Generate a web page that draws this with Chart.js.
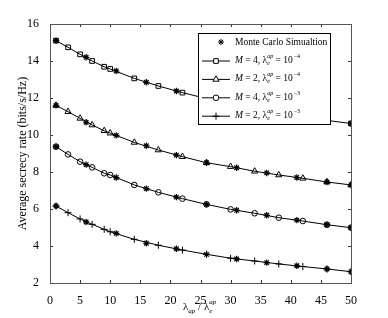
<!DOCTYPE html>
<html>
<head>
<meta charset="utf-8">
<script src="https://cdn.jsdelivr.net/npm/chart.js@4"></script>
<style>
  html, body { margin: 0; padding: 0; background: #fff; }
  #box { width: 388px; height: 318px; }
</style>
</head>
<body>
<div id="box"><canvas id="grafico" width="388" height="318"></canvas></div>
<script>
// eixo x onde estão os marcadores das curvas analíticas
const xMarcadores = [1, 3, 5, 7, 9, 10, 14, 18, 22, 26, 30, 34, 38, 42, 46, 50];
// curvas analíticas
const m4e4 = [15.1, 14.74, 14.36, 14.0, 13.69, 13.57, 13.06, 12.65, 12.29, 11.97, 11.69, 11.45, 11.21, 11.0, 10.79, 10.62];
const m2e4 = [11.6, 11.26, 10.9, 10.54, 10.23, 10.1, 9.6, 9.19, 8.83, 8.5, 8.29, 8.04, 7.84, 7.66, 7.46, 7.3];
const m4e3 = [9.37, 8.95, 8.56, 8.25, 7.93, 7.84, 7.3, 6.9, 6.56, 6.25, 5.98, 5.77, 5.53, 5.35, 5.15, 4.99];
const m2e3 = [6.16, 5.8, 5.46, 5.17, 4.9, 4.77, 4.36, 4.04, 3.78, 3.55, 3.34, 3.19, 3.03, 2.89, 2.76, 2.61];

// pontos da simulação Monte Carlo
const xSimulacao = [1, 6, 11, 16, 21, 26, 31, 36, 41, 46, 50];
const simM4e4 = [15.1, 14.2, 13.46, 12.85, 12.38, 11.97, 11.64, 11.34, 11.06, 10.8, 10.62];
const simM2e4 = [11.6, 10.69, 9.98, 9.42, 8.91, 8.5, 8.23, 7.95, 7.7, 7.46, 7.3];
const simM4e3 = [9.37, 8.4, 7.7, 7.1, 6.64, 6.25, 5.93, 5.66, 5.4, 5.15, 4.99];
const simM2e3 = [6.16, 5.3, 4.68, 4.15, 3.85, 3.55, 3.3, 3.1, 2.93, 2.76, 2.61];

const xTicks = [0, 5, 10, 15, 20, 25, 30, 35, 40, 45, 50];
const yTicks = [2, 4, 6, 8, 10, 12, 14, 16];

// textos da legenda
const legendaM = ['4', '2', '4', '2'];
const legendaExp = ['\u22124', '\u22124', '\u22123', '\u22123'];
const legendaSim = 'Monte Carlo Simualtion';

const SERIF = '"Liberation Serif", "Times New Roman", serif';

function pares(xs, ys) {
    return xs.map((x, i) => ({ x: x, y: ys[i] }));
}

function curva(ys, estilo, raio) {
    return {
        data: pares(xMarcadores, ys),
        borderColor: '#000',
        borderWidth: 1,
        pointStyle: estilo,
        pointRadius: raio,
        pointBorderColor: '#000',
        pointBorderWidth: 1,
        pointBackgroundColor: 'rgba(0,0,0,0)',
        tension: 0
    };
}

function simulacao(ys) {
    return {
        data: pares(xSimulacao, ys),
        showLine: false,
        pointStyle: 'star',
        pointRadius: 3.2,
        pointBorderColor: '#000',
        pointBorderWidth: 1.2
    };
}

// desenha os ticks para dentro, a caixa, título do eixo x e a legenda
const extras = {
    id: 'extras',
    afterDraw(chart) {
        const ctx = chart.ctx;
        const a = chart.chartArea;
        const sx = chart.scales.x, sy = chart.scales.y;
        ctx.save();
        ctx.strokeStyle = '#333';
        ctx.lineWidth = 1;
        ctx.beginPath();
        sx.ticks.forEach(t => {
            const px = Math.round(sx.getPixelForValue(t.value)) + 0.5;
            ctx.moveTo(px, a.bottom); ctx.lineTo(px, a.bottom - 3);
            ctx.moveTo(px, a.top); ctx.lineTo(px, a.top + 3);
        });
        sy.ticks.forEach(t => {
            const py = Math.round(sy.getPixelForValue(t.value)) + 0.5;
            ctx.moveTo(a.left, py); ctx.lineTo(a.left + 3, py);
            ctx.moveTo(a.right, py); ctx.lineTo(a.right - 3, py);
        });
        ctx.stroke();
        ctx.strokeStyle = '#555';
        ctx.strokeRect(Math.round(a.left) + 0.5, Math.round(a.top) + 0.5,
            Math.round(a.right - a.left), Math.round(a.bottom - a.top));

        // título do eixo x: λap / λe^ap
        ctx.fillStyle = '#000';
        ctx.textBaseline = 'alphabetic';
        let x = 183, y = 310;
        ctx.font = '11px ' + SERIF;
        ctx.fillText('\u03bb', x, y); x += ctx.measureText('\u03bb').width;
        ctx.font = 'italic 7px ' + SERIF;
        ctx.fillText('ap', x, y + 3); x += ctx.measureText('ap').width;
        ctx.font = '11px ' + SERIF;
        ctx.fillText(' / \u03bb', x, y); x += ctx.measureText(' / \u03bb').width;
        ctx.font = 'italic 7px ' + SERIF;
        ctx.fillText('e', x, y + 3);
        ctx.fillText('ap', x, y - 6);

        // legenda
        const lx = 198, ly = 33, lw = 132, lh = 91;
        ctx.fillStyle = '#fff';
        ctx.fillRect(lx, ly, lw, lh);
        ctx.strokeStyle = '#000';
        ctx.strokeRect(lx + 0.5, ly + 0.5, lw, lh);
        const linhas = chart.data.datasets;
        const passo = 18.4;
        let ry = 42;
        Chart.helpers.drawPoint(ctx, {
            pointStyle: 'star', radius: 3, borderWidth: 1
        }, 221, ry);
        ctx.fillStyle = '#000';
        ctx.font = '9.5px ' + SERIF;
        ctx.textBaseline = 'middle';
        ctx.fillText(legendaSim, 235, ry);
        for (let i = 0; i < 4; i++) {
            ry = 60.5 + i * passo;
            const ds = linhas[i];
            ctx.strokeStyle = '#000';
            ctx.beginPath();
            ctx.moveTo(202, ry + 0.5); ctx.lineTo(230, ry + 0.5);
            ctx.stroke();
            ctx.fillStyle = '#fff';
            Chart.helpers.drawPoint(ctx, {
                pointStyle: ds.pointStyle, radius: ds.pointRadius,
                rotation: 0, borderWidth: 1
            }, 216, ry + 0.5);
            ctx.fillStyle = '#000';
            let tx = 235;
            ctx.font = 'italic 9.5px ' + SERIF;
            ctx.fillText('M', tx, ry); tx += ctx.measureText('M').width;
            ctx.font = '9.5px ' + SERIF;
            let s = ' = ' + legendaM[i] + ', \u03bb';
            ctx.fillText(s, tx, ry); tx += ctx.measureText(s).width;
            ctx.font = 'italic 6px ' + SERIF;
            ctx.fillText('e', tx, ry + 3);
            ctx.fillText('ap', tx, ry - 4);
            tx += ctx.measureText('ap').width;
            ctx.font = '9.5px ' + SERIF;
            s = ' = 10';
            ctx.fillText(s, tx, ry); tx += ctx.measureText(s).width;
            ctx.font = '6px ' + SERIF;
            ctx.fillText(legendaExp[i], tx + 1, ry - 4);
        }
        ctx.restore();
    }
};

const ctx = document.getElementById('grafico').getContext('2d');
window.chartInstance = new Chart(ctx, {
    type: 'line',
    data: {
        datasets: [
            curva(m4e4, 'rect', 3.3),
            curva(m2e4, 'triangle', 3.6),
            curva(m4e3, 'circle', 2.8),
            curva(m2e3, 'cross', 3.5),
            simulacao(simM4e4),
            simulacao(simM2e4),
            simulacao(simM4e3),
            simulacao(simM2e3)
        ]
    },
    options: {
        responsive: false,
        animation: false,
        layout: { padding: { top: 24, right: 37, left: 0, bottom: 0 } },
        plugins: {
            legend: { display: false },
            tooltip: { enabled: false }
        },
        scales: {
            x: {
                type: 'linear',
                min: 0, max: 50,
                afterBuildTicks: s => { s.ticks = xTicks.map(v => ({ value: v })); },
                afterFit: s => { s.height = 35; },
                grid: { display: false },
                border: { display: false },
                ticks: { color: '#000', padding: 3, maxRotation: 0, font: { family: SERIF, size: 12 } }
            },
            y: {
                min: 2, max: 16,
                afterBuildTicks: s => { s.ticks = yTicks.map(v => ({ value: v })); },
                afterFit: s => { s.width = 50; },
                grid: { display: false },
                border: { display: false },
                ticks: { color: '#000', padding: 3, font: { family: SERIF, size: 12 } },
                title: {
                    display: true,
                    text: 'Average secrecy rate (bits/s/Hz)',
                    color: '#000',
                    font: { family: SERIF, size: 12 },
                    padding: { top: 16, bottom: 0 }
                }
            }
        }
    },
    plugins: [extras]
});
</script>
</body>
</html>
